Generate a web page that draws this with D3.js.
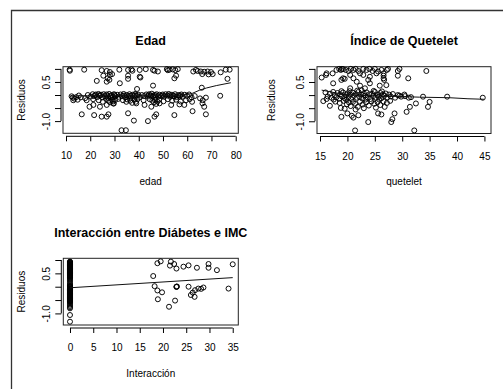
<!DOCTYPE html>
<html>
<head>
<meta charset="utf-8">
<script src="https://cdn.jsdelivr.net/npm/d3@7"></script>
<style>
  body { margin: 0; background: #fff; }
  svg { display: block; font-family: "Liberation Sans", Arial, sans-serif; }
</style>
</head>
<body>
<div id="chart"></div>
<script>
var width = 503,
    height = 389;

// residuals vs edad: [edad, residuo]
var edadPts = [
  [11.5,0.97],[11.6,0.93],[17.5,0.97],[24.7,0.95],[26.8,0.92],[28.1,0.88],[32.0,0.97],[35.6,0.96],[37.0,0.98],[37.4,0.93],
  [40.4,0.96],[42.9,0.99],[45.9,0.96],[46.5,0.93],[47.9,0.9],[51.6,0.99],[52.0,0.95],[52.7,0.97],[54.0,0.98],[55.1,0.95],
  [56.1,0.99],[63.6,0.96],[64.3,0.92],[65.6,0.9],[67.0,0.89],[68.4,0.9],[69.8,0.88],[73.8,0.87],[75.9,0.97],[77.5,0.97],
  [62.5,0.9],[66.2,0.8],[68.8,0.79],[70.5,0.8],[29.0,0.8],
  [25.4,0.74],[27.2,0.64],[28.1,0.77],[27.9,0.58],[35.6,0.74],[35.6,0.62],[40.4,0.7],[40.7,0.67],[54.7,0.64],[55.4,0.74],
  [76.6,0.62],[22.7,0.54],[26.8,0.51],[32.2,0.45],[45.9,0.36],[39.3,0.23],[66.0,0.28],
  [12.3,-0.05],[12.8,-0.1],[13.4,-0.14],[14.2,-0.08],[15.3,-0.02],[16.1,-0.09],[17.9,-0.12],[19.0,0.0],[20.2,-0.06],[21.0,0.03],
  [21.6,-0.04],[22.3,0.02],[22.9,-0.08],[23.4,0.04],[23.9,-0.03],[24.5,0.01],[25.0,-0.09],[25.6,0.03],[26.1,-0.05],[26.7,0.02],
  [27.2,-0.1],[27.8,0.04],[28.3,-0.04],[28.8,0.0],[29.3,-0.08],[29.8,0.03],[30.4,-0.05],[31.1,0.01],[31.7,-0.07],[32.5,0.02],
  [33.2,-0.04],[33.8,0.04],[34.4,-0.09],[35.0,0.0],[35.7,-0.05],[36.2,0.03],[36.8,-0.1],[37.4,0.01],[38.0,-0.05],[38.5,0.04],
  [39.1,-0.02],[39.8,0.01],[40.5,-0.08],[41.3,0.0],[42.2,-0.04],[43.1,0.02],[43.7,-0.06],[44.3,0.03],[44.9,-0.02],[45.4,0.05],
  [45.9,-0.07],[46.4,0.0],[46.9,-0.11],[47.4,0.03],[48.0,-0.05],[48.6,0.01],[49.2,-0.04],[49.9,0.02],[50.5,-0.06],[51.1,0.03],
  [51.8,-0.02],[52.4,0.04],[53.0,-0.07],[53.7,0.01],[54.3,-0.03],[55.0,0.03],[55.6,-0.08],[56.3,0.0],[56.9,-0.05],[57.6,0.02],
  [58.2,-0.06],[59.0,0.01],[59.9,-0.03],[60.8,0.02],[61.8,-0.09],[63.1,-0.04],[65.3,-0.13],[66.4,-0.2],
  [22.0,-0.01],[24.0,0.0],[27.0,-0.02],[28.5,-0.06],[30.0,0.0],[34.0,-0.02],[36.5,-0.03],[38.3,-0.01],[44.0,-0.01],[46.0,-0.03],
  [47.0,-0.01],[50.0,-0.02],[52.8,-0.01],[54.8,-0.05],[57.0,-0.01],
  [13.0,-0.2],[14.8,-0.18],[18.5,-0.2],[21.2,-0.16],[23.5,-0.2],[25.2,-0.26],[26.5,-0.15],[27.5,-0.22],[28.2,-0.28],[28.9,-0.18],
  [29.4,-0.25],[29.7,-0.33],[30.2,-0.2],[31.5,-0.15],[33.5,-0.2],[35.3,-0.17],[36.5,-0.22],[37.3,-0.3],[38.2,-0.18],[38.8,-0.26],
  [39.5,-0.16],[42.0,-0.2],[44.5,-0.16],[45.6,-0.22],[46.3,-0.28],[46.7,-0.19],[47.2,-0.34],[47.7,-0.25],[48.4,-0.18],[50.2,-0.24],
  [52.0,-0.16],[53.8,-0.22],[55.4,-0.18],[57.3,-0.25],[59.5,-0.2],[61.0,-0.16],
  [19.7,-0.45],[21.3,-0.38],[24.0,-0.45],[26.8,-0.38],[29.5,-0.32],[34.9,-0.26],[39.0,-0.32],[42.4,-0.38],[45.2,-0.45],[48.6,-0.32],
  [53.4,-0.38],[56.8,-0.36],[58.8,-0.38],[62.0,-0.26],[66.3,-0.32],[67.0,-0.45],[73.6,-0.03],[67.7,-0.1],
  [16.5,-0.74],[21.6,-0.77],[24.7,-0.83],[26.8,-0.83],[27.5,-0.74],[35.6,-0.7],[38.0,-0.98],[43.8,-1.0],[47.2,-0.74],[46.5,-0.83],
  [54.7,-0.77],[62.2,-0.62],[67.7,-0.74],[32.9,-1.35],[34.7,-1.35]
];
var edadFit = [[11.5,-0.04],[20,-0.03],[30,-0.03],[40,-0.03],[50,-0.02],[56,-0.01],[59,0.01],[62,0.06],[65,0.18],[68,0.27],[72,0.36],[78,0.47]];

// residuals vs quetelet: [quetelet, residuo]
var queteletPts = [
  [15.3,0.67],[16.1,0.77],[16.2,0.83],[17.3,0.83],[18.0,0.96],[18.5,1.0],[18.8,0.96],[19.0,1.0],[19.2,0.99],[19.7,0.96],
  [20.2,0.92],[20.6,1.0],[21.1,0.96],[21.5,1.0],[22.0,0.92],[22.3,0.83],[22.9,1.0],[23.5,0.96],[24.0,1.0],[24.6,0.92],
  [25.0,1.0],[25.6,0.9],[26.2,0.96],[26.6,0.83],[26.6,0.74],[26.6,0.64],[26.7,0.58],[27.2,0.96],[27.4,1.0],[29.2,0.92],
  [29.5,1.0],[29.2,0.74],[31.1,0.64],[34.4,0.92],[20.5,0.77],[21.1,0.64],[19.5,0.62],[22.9,0.77],[24.1,0.7],[25.3,0.83],
  [17.4,0.45],[18.9,0.58],[19.2,0.64],[21.7,0.51],[22.3,0.36],[23.8,0.58],[24.1,0.45],[25.9,0.36],[27.1,0.38],[23.2,0.26],[20.5,0.26],
  [16.0,0.1],[16.4,-0.05],[16.8,0.05],[17.1,-0.1],[17.4,0.12],[17.7,0.0],[18.0,-0.08],[18.2,0.08],[18.5,-0.14],[18.7,0.03],
  [19.0,-0.05],[19.2,0.1],[19.5,-0.12],[19.7,0.0],[20.0,0.06],[20.2,-0.08],[20.5,0.02],[20.7,-0.15],[21.0,0.09],[21.2,-0.03],
  [21.5,0.04],[21.7,-0.1],[22.0,0.12],[22.2,-0.06],[22.5,0.02],[22.7,-0.13],[23.0,0.07],[23.2,-0.02],[23.5,0.1],[23.7,-0.09],
  [24.0,0.03],[24.2,-0.15],[24.5,0.05],[24.7,-0.04],[25.0,0.12],[25.2,-0.1],[25.5,0.01],[25.7,-0.06],[26.0,0.08],[26.2,-0.12],
  [26.5,0.03],[26.7,-0.03],[27.0,0.06],[27.3,-0.09],[27.6,0.02],[27.9,-0.05],[28.3,0.04],[28.7,-0.1],[29.2,0.0],[29.8,-0.06],
  [30.4,0.02],[16.2,-0.15],[17.5,-0.17],[18.9,0.15],[20.4,0.15],[21.8,0.17],[23.3,-0.17],[24.8,0.16],[26.3,0.14],[19.8,-0.18],
  [22.6,0.18],[25.8,-0.17],[31.6,-0.08],
  [17.8,-0.25],[18.6,-0.3],[19.3,-0.22],[19.9,-0.35],[20.3,-0.28],[20.6,-0.42],[21.0,-0.26],[21.4,-0.33],[21.9,-0.45],[22.3,-0.25],
  [22.8,-0.36],[23.4,-0.28],[23.9,-0.4],[24.4,-0.24],[24.9,-0.33],[25.5,-0.27],[26.0,-0.38],[26.6,-0.24],[27.2,-0.3],[27.8,-0.22],
  [19.5,-0.52],[21.5,-0.55],[23.0,-0.5],[25.2,-0.48],[26.8,-0.45],
  [33.8,-0.06],[38.2,-0.06],[44.7,-0.1],[35.0,-0.26],[34.7,-0.45],[32.5,-0.32],[31.4,-0.45],[30.8,-0.64],[29.5,-0.02],[30.5,-0.04],[31.2,-0.1],
  [15.6,-0.23],[16.8,-0.41],[18.8,-0.49],[18.9,-0.83],[20.0,-0.7],[20.8,-0.79],[21.1,-0.86],[22.0,-0.77],[23.8,-1.03],[25.6,-0.7],
  [26.2,-0.74],[28.0,-1.03],[28.2,-0.92],[28.6,-0.7],[21.4,-1.35],[32.2,-1.35]
];
var queteletFit = [[15.3,0.19],[17,0.12],[19.2,0.03],[22,-0.01],[25.3,-0.03],[29,-0.05],[33.2,-0.08],[38.6,-0.1],[42,-0.14],[44.9,-0.16]];

// residuals of the non-diabetic cases (interaccion = 0)
var interZeroRes = [
  0.94,0.93,0.91,0.9,0.88,0.87,0.85,0.84,0.82,0.81,0.79,0.78,0.76,0.75,0.73,0.72,0.7,0.69,0.67,0.66,
  0.64,0.63,0.61,0.6,0.58,0.57,0.55,0.54,0.52,0.51,0.49,0.48,0.46,0.45,0.43,0.42,0.4,0.38,0.36,0.34,
  0.31,0.27,0.22,0.16,0.1,0.06,0.03,0.01,-0.01,-0.03,-0.05,-0.07,-0.09,-0.1,-0.12,-0.13,-0.15,-0.16,-0.18,-0.19,
  -0.21,-0.22,-0.24,-0.25,-0.27,-0.28,-0.3,-0.31,-0.33,-0.34,-0.36,-0.37,-0.39,-0.4,-0.42,-0.43,-0.45,-0.46,-0.48,-0.49,
  -0.51,-0.52,-0.54,-0.55,-0.58,-0.62,-0.67,-0.72,-0.77,-0.81,-1.06,-1.31
];
// residuals vs interaccion (diabetes x IMC), non-zero cases: [interaccion, residuo]
var interPts = [
  [17.9,0.4],[18.2,0.02],[18.8,0.88],[19.5,0.95],[18.8,-0.14],[18.9,-0.47],[19.8,-0.21],[21.3,-0.75],[21.5,0.79],[21.7,0.94],
  [22.4,0.85],[22.6,-0.52],[22.9,0.68],[22.9,0.0],[22.9,-0.01],[23.0,0.01],[24.4,0.75],[25.5,0.8],[25.5,0.0],[26.0,-0.31],
  [26.4,-0.22],[26.8,-0.38],[26.9,-0.13],[27.3,0.71],[27.6,-0.07],[28.2,-0.08],[28.7,-0.03],[29.8,0.85],[29.8,0.71],[31.6,0.62],
  [34.1,-0.07],[35.0,0.84]
];
var interFit = [[0,-0.04],[35,0.34]];

var yTicks = [-1.0, -0.5, 0, 0.5, 1.0];
var yTickLabels = ["-1.0", "", "", "0.5", ""];
var edadTicks = [10, 20, 30, 40, 50, 60, 70, 80];
var queteletTicks = [15, 20, 25, 30, 35, 40, 45];
var interTicks = [0, 5, 10, 15, 20, 25, 30, 35];

var svg = d3.select("#chart").append("svg")
    .attr("width", width)
    .attr("height", height);

svg.append("rect").attr("width", width).attr("height", height).attr("fill", "#fff");

// outer frame (left and top edges only are visible)
svg.append("path")
    .attr("d", "M11.5," + height + "V10.5H" + width)
    .attr("fill", "none")
    .attr("stroke", "#333")
    .attr("stroke-width", 1.3);

function panel(o) {
  var x = d3.scaleLinear().domain(o.xDom).range([o.left, o.right]);
  var y = d3.scaleLinear().domain(o.yDom).range([o.bottom, o.top]);
  var g = svg.append("g");

  g.append("rect")
      .attr("x", o.left).attr("y", o.top)
      .attr("width", o.right - o.left).attr("height", o.bottom - o.top)
      .attr("fill", "none").attr("stroke", "#222").attr("stroke-width", 1);

  // points
  g.append("g").selectAll("circle")
      .data(o.pts)
      .enter().append("circle")
      .attr("cx", function(d) { return x(d[0]); })
      .attr("cy", function(d) { return y(d[1]); })
      .attr("r", 2.5)
      .attr("fill", "none")
      .attr("stroke", "#000")
      .attr("stroke-width", 0.95);

  // fitted line
  g.append("path")
      .datum(o.fit)
      .attr("fill", "none")
      .attr("stroke", "#111")
      .attr("stroke-width", 1)
      .attr("d", d3.line().x(function(d) { return x(d[0]); }).y(function(d) { return y(d[1]); }));

  // x axis, line from first to last tick
  var xa = g.append("g")
      .attr("transform", "translate(0," + (o.bottom + 3) + ")")
      .call(d3.axisBottom(x).tickValues(o.xTicks).tickSize(5).tickPadding(11).tickFormat(d3.format("d")));
  xa.select(".domain").remove();
  xa.append("line")
      .attr("x1", x(o.xTicks[0])).attr("x2", x(o.xTicks[o.xTicks.length - 1]))
      .attr("stroke", "#000");
  xa.selectAll("text").attr("font-size", 10).attr("fill", "#000").attr("font-family", null);
  xa.selectAll(".tick line").attr("stroke", "#000");

  // y axis with rotated labels
  var ticks = yTicks.filter(function(t) { return t >= o.yDom[0] - 1e-6 && t <= o.yDom[1] + 1e-6; });
  var ya = g.append("g")
      .attr("transform", "translate(" + (o.left - 2) + ",0)")
      .call(d3.axisLeft(y).tickValues(ticks).tickSize(6)
        .tickFormat(function(d) { return yTickLabels[yTicks.indexOf(d)]; }));
  ya.select(".domain").remove();
  ya.append("line")
      .attr("y1", y(ticks[0])).attr("y2", y(ticks[ticks.length - 1]))
      .attr("stroke", "#000");
  ya.selectAll(".tick line").attr("stroke", "#000");
  ya.selectAll("text")
      .attr("transform", "rotate(-90)")
      .attr("x", 0).attr("y", -11.3).attr("dy", null)
      .attr("text-anchor", "middle")
      .attr("font-size", 10).attr("fill", "#000").attr("font-family", null);

  // title and labels
  g.append("text")
      .attr("x", (o.left + o.right) / 2).attr("y", o.top - 21.7)
      .attr("text-anchor", "middle")
      .attr("font-size", 12.5).attr("font-weight", "bold")
      .text(o.title);
  g.append("text")
      .attr("x", (o.left + o.right) / 2).attr("y", o.bottom + 51.5)
      .attr("text-anchor", "middle")
      .attr("font-size", 10)
      .text(o.xLabel);
  g.append("text")
      .attr("transform", "translate(" + o.yLabX + "," + (o.top + o.bottom) / 2 + ") rotate(-90)")
      .attr("text-anchor", "middle")
      .attr("font-size", 10)
      .text("Residuos");
}

panel({
  title: "Edad", xLabel: "edad", pts: edadPts, fit: edadFit, xTicks: edadTicks,
  xDom: [8.76, 81.07], yDom: [-1.467, 1.084],
  left: 63, right: 238.3, top: 66.7, bottom: 133.3, yLabX: 25
});

panel({
  title: "Índice de Quetelet", xLabel: "quetelet", pts: queteletPts, fit: queteletFit, xTicks: queteletTicks,
  xDom: [14.45, 46.2], yDom: [-1.467, 1.084],
  left: 317, right: 491, top: 66.7, bottom: 133.5, yLabX: 275
});

panel({
  title: "Interacción entre Diábetes e IMC", xLabel: "Interacción",
  pts: interZeroRes.map(function(r) { return [0, r]; }).concat(interPts),
  fit: interFit, xTicks: interTicks,
  xDom: [-1.44, 36.2], yDom: [-1.434, 1.064],
  left: 63.3, right: 238.3, top: 258.3, bottom: 325, yLabX: 25
});
</script>
</body>
</html>
